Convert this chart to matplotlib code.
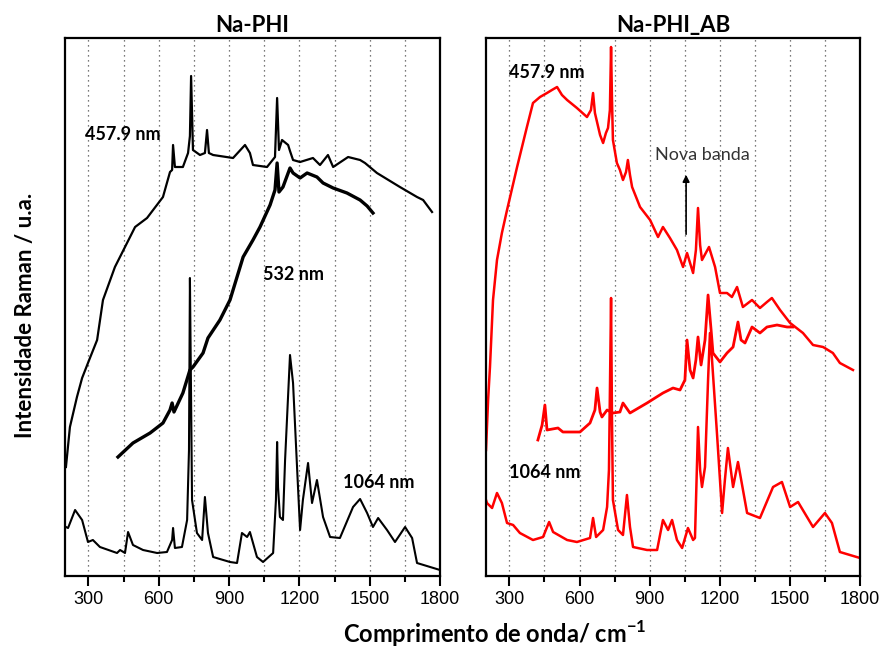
import numpy as np
import matplotlib.pyplot as plt
from matplotlib.ticker import MultipleLocator

# --- Datos (intensidad en unidades arbitrarias) ---
# Na-PHI, 457.9 nm
phi_457_x = [204, 221, 251, 273, 298, 337, 362, 413, 499, 550, 618, 648, 657, 661, 669,
             703, 725, 733, 738, 746, 776, 797, 806, 814, 832, 917, 968, 989, 1002, 1062,
             1096, 1105, 1113, 1126, 1152, 1160, 1173, 1203, 1258, 1288, 1322, 1344, 1408,
             1459, 1480, 1531, 1629, 1702, 1728, 1766]
phi_457_y = [109, 149, 179, 198, 213, 236, 276, 309, 349, 358, 379, 404, 406, 431, 409,
             409, 423, 440, 500, 426, 421, 423, 446, 423, 421, 418, 431, 423, 411, 409,
             419, 478, 426, 436, 431, 425, 416, 414, 418, 411, 421, 409, 419,
             416, 413, 403, 389, 379, 376, 364]

# Na-PHI, 532 nm
phi_532_x = [426, 490, 563, 618, 648, 657, 665, 703, 733, 746, 789, 810, 861, 904, 960,
             1002, 1032, 1075, 1096, 1105, 1113, 1130, 1160, 1173, 1203, 1233, 1275, 1301,
             1344, 1403, 1459, 1489, 1514]
phi_532_y = [119, 133, 143, 153, 166, 173, 164, 183, 206, 209, 223, 238, 256, 276, 319,
             336, 349, 371, 386, 413, 384, 389, 408, 403, 398, 403, 399, 393,
             388, 383, 376, 370, 363]

# Na-PHI, 1064 nm
phi_1064_x = [204, 213, 243, 273, 298, 319, 349, 422, 435, 456, 469, 490, 533, 593, 635,
              657, 661, 669, 699, 721, 729, 733, 738, 742, 763, 785, 797, 810, 832, 904,
              934, 955, 977, 989, 1019, 1045, 1088, 1100, 1105, 1109, 1117, 1130, 1139,
              1160, 1173, 1190, 1203, 1215, 1237, 1254, 1275, 1301, 1331, 1373, 1429,
              1459, 1489, 1514, 1536, 1574, 1608, 1651, 1681, 1702, 1800]
phi_1064_y = [49, 48, 66, 56, 34, 36, 29, 23, 26, 23, 44, 31, 26, 23, 24,
              36, 48, 28, 29, 56, 126, 298, 176, 76, 43, 36, 79, 43, 19, 14,
              13, 43, 39, 44, 19, 14, 23, 76, 134, 89, 59, 56, 116,
              221, 193, 109, 46, 76, 113, 73, 96, 59, 39, 38, 69,
              77, 63, 49, 58, 46, 34, 49, 38, 13, 6]

# Na-PHI_AB, 457.9 nm
ab_457_x = [200, 209, 217, 230, 247, 268, 290, 333, 375, 401, 431, 461, 482, 504, 525,
            547, 589, 632, 649, 658, 666, 688, 701, 713, 722, 730, 735, 739, 743, 760,
            773, 786, 799, 807, 816, 825, 859, 902, 936, 957, 987, 1017, 1043, 1060,
            1086, 1098, 1107, 1116, 1124, 1154, 1180, 1201, 1231, 1252, 1274, 1299,
            1338, 1372, 1402, 1423, 1458, 1501, 1556, 1599, 1642, 1684, 1714, 1770]
ab_457_y = [126, 176, 209, 276, 316, 343, 366, 409, 449, 473, 479, 483, 486, 489, 481,
            476, 468, 459, 466, 483, 463, 441, 433, 443, 448, 466, 529, 476, 436, 413,
            406, 396, 404, 416, 401, 389, 369, 356, 339, 349, 338, 326, 309, 323,
            303, 326, 368, 331, 316, 329, 309, 283, 283, 279, 289, 269,
            276, 268, 274, 278, 266, 253, 243, 231, 229, 223, 213, 206]

# Na-PHI_AB, 532 nm
ab_532_x = [422, 440, 452, 461, 508, 529, 602, 645, 666, 675, 688, 696, 718, 743, 773,
            786, 816, 889, 957, 1000, 1030, 1051, 1060, 1073, 1086, 1098, 1107, 1120,
            1137, 1150, 1163, 1171, 1201, 1231, 1257, 1278, 1291, 1308, 1338, 1372,
            1402, 1445, 1488, 1513]
ab_532_y = [136, 151, 171, 146, 148, 144, 144, 153, 166, 188, 164, 159, 166, 163, 164,
            173, 163, 173, 183, 188, 186, 196, 236, 206, 198, 216, 239, 211,
            236, 281, 246, 223, 214, 223, 229, 254, 236, 233, 249, 243,
            249, 251, 249, 249]

# Na-PHI_AB, 1064 nm
ab_1064_x = [200, 204, 226, 247, 268, 290, 316, 345, 401, 444, 470, 487, 547, 589, 645,
             658, 671, 701, 718, 726, 735, 739, 743, 765, 786, 803, 816, 829, 889, 932,
             957, 979, 996, 1017, 1039, 1064, 1086, 1094, 1107, 1116, 1124, 1137, 1150,
             1158, 1167, 1188, 1201, 1210, 1222, 1235, 1257, 1278, 1317, 1372, 1428,
             1466, 1501, 1535, 1599, 1650, 1680, 1714, 1800]
ab_1064_y = [76, 73, 68, 83, 73, 53, 51, 43, 36, 39, 54, 44, 36, 34, 38,
             58, 39, 46, 69, 106, 278, 156, 76, 46, 41, 81, 49, 29, 26, 26,
             56, 46, 56, 36, 28, 48, 36, 38, 149, 106, 89, 109, 196,
             243, 216, 143, 96, 63, 96, 128, 89, 114, 63, 58, 89,
             94, 69, 74, 49, 63, 53, 24, 18]

# --- Figura ---
font_txt = ['Lato', 'DejaVu Sans']
plt.rcParams['mathtext.fontset'] = 'custom'
plt.rcParams['mathtext.bf'] = 'Lato:bold'
plt.rcParams['mathtext.rm'] = 'Lato'

fig = plt.figure(figsize=(8.85, 6.5), dpi=100)
ax1 = fig.add_axes([65/885, 74/650, 375/885, 538/650])
ax2 = fig.add_axes([486/885, 74/650, 374/885, 538/650])

ax1.plot(phi_457_x, phi_457_y, color='black', lw=1.6)
ax1.plot(phi_532_x, phi_532_y, color='black', lw=2.4)
ax1.plot(phi_1064_x, phi_1064_y, color='black', lw=1.5)

ax2.plot(ab_457_x, ab_457_y, color='red', lw=1.8)
ax2.plot(ab_532_x, ab_532_y, color='red', lw=2.0)
ax2.plot(ab_1064_x, ab_1064_y, color='red', lw=1.8)

for ax, title in [(ax1, 'Na-PHI'), (ax2, 'Na-PHI_AB')]:
    ax.set_xlim(200, 1800)
    ax.set_ylim(0, 538)
    ax.xaxis.set_major_locator(MultipleLocator(300))
    ax.xaxis.set_minor_locator(MultipleLocator(150))
    ax.set_yticks([])
    ax.grid(True, axis='x', which='both', linestyle=(0, (1, 3)), color='0.3', lw=0.9)
    ax.tick_params(axis='x', which='major', direction='out', length=7, width=1.5,
                   labelsize=13, pad=4, labelfontfamily='Liberation Sans')
    ax.tick_params(axis='x', which='minor', direction='out', length=4, width=1.5)
    for sp in ax.spines.values():
        sp.set_linewidth(1.6)
    ax.set_title(title, fontsize=16, fontweight='bold', family=font_txt, pad=4)

# Etiquetas de las líneas
lab_kw = dict(fontsize=13, fontweight='bold', family=font_txt, va='center', ha='left')
ax1.text(285, 442, '457.9 nm', **lab_kw)
ax1.text(1045, 301, '532 nm', **lab_kw)
ax1.text(1386, 93, '1064 nm', **lab_kw)
ax2.text(298, 504, '457.9 nm', **lab_kw)
ax2.text(298, 103, '1064 nm', **lab_kw)

ax2.text(923, 421, 'Nova banda', fontsize=13, family=font_txt, color='#333333',
         va='center', ha='left')
ax2.annotate('', xy=(1056, 404), xytext=(1056, 339),
             arrowprops=dict(arrowstyle='-|>', color='black', lw=1.2, mutation_scale=10))

fig.text(495/885, 1 - 634/650, r'Comprimento de onda/ cm$^{\mathbf{-1}}$', ha='center',
         va='center', fontsize=17, fontweight='bold', family=font_txt)
fig.text(26/885, 1 - 315/650, 'Intensidade Raman / u.a.', ha='center', va='center',
         rotation=90, fontsize=16, fontweight='bold', family=font_txt)

fig.savefig('out.png', dpi=100)
